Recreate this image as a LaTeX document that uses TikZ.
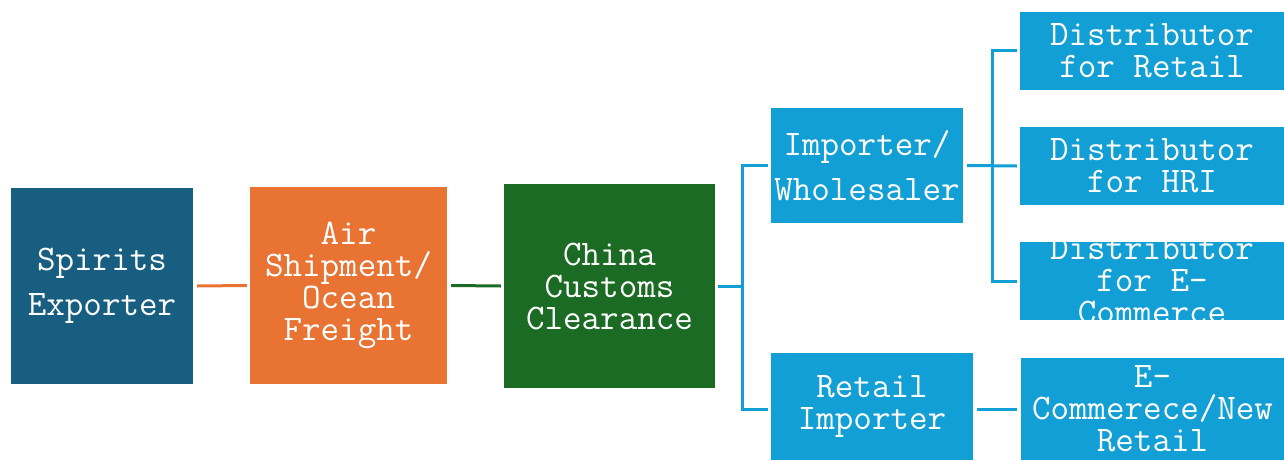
\documentclass[tikz,border=0pt]{standalone}
\definecolor{exportblue}{RGB}{23,94,128}
\definecolor{shiporange}{RGB}{233,115,51}
\definecolor{customsgreen}{RGB}{27,107,36}
\definecolor{chainblue}{RGB}{17,159,214}
\begin{document}
\begin{tikzpicture}[x=1pt,y=-1pt,
  box/.style={rectangle, fill=#1, draw=none, inner sep=0pt, text=white, align=center,
    font=\ttfamily\fontsize{36}{32}\selectfont},
  boxtext/.style={inner sep=0pt, text=white, align=center,
    font=\ttfamily\fontsize{36}{32}\selectfont},
  wide/.style={font=\ttfamily\fontsize{36}{45}\selectfont},
  conn/.style={line width=3pt, draw=#1},
  conn/.default=chainblue]
\useasboundingbox (0,0) rectangle (1284,460);

% main flow
\node[box=exportblue, wide, minimum width=182pt, minimum height=196pt] (se) at (102,286) {Spirits\\Exporter};
\node[box=shiporange, minimum width=197pt, minimum height=197pt] (air) at (348.5,285.5) {Air\\Shipment/\\Ocean\\Freight};
\node[box=customsgreen, minimum width=211pt, minimum height=204pt] (cc) at (609.5,286) {China\\Customs\\Clearance};

% importers
\node[box=chainblue, wide, minimum width=192pt, minimum height=115pt] (iw) at (867,165.5) {Importer/\\Wholesaler};
\node[box=chainblue, minimum width=202pt, minimum height=107pt] (ri) at (872,406.5) {Retail\\Importer};

% distributors
\node[box=chainblue, minimum width=264pt, minimum height=78pt] (d1) at (1152,51) {Distributor\\for Retail};
\node[box=chainblue, minimum width=264pt, minimum height=78pt] (d2) at (1152,166) {Distributor\\for HRI};
\node[box=chainblue, minimum width=264pt, minimum height=78pt] (d3) at (1152,281) {};
\node[box=chainblue, minimum width=263pt, minimum height=102pt] (ec) at (1152.5,409) {};

% overflowing labels, cut at the box edges
\begin{scope}
  \clip (d3.north west) rectangle (d3.south east);
  \node[boxtext] (d3t) at (d3.center) {Distributor\\for E-\\Commerce};
\end{scope}
\begin{scope}
  \clip (ec.north west) rectangle (ec.south east);
  \node[boxtext] (ect) at (ec.center) {E-\\Commerece/New\\Retail};
\end{scope}

% connectors
\coordinate (j1) at (742,286);
\coordinate (j2) at (992,166);
\draw[conn=shiporange] ([xshift=4pt]se.east) -- ([xshift=-3pt]air.west);
\draw[conn=customsgreen] ([xshift=4pt]air.east) -- ([xshift=-3pt]cc.west);
\draw[conn] ([xshift=3pt]cc.east) -- (j1);
\draw[conn] ([xshift=-3pt]iw.west) -| (j1) |- ([xshift=-3pt,yshift=-2.5pt]ri.west);
\draw[conn] ([xshift=4pt]iw.east) -- ([xshift=-3pt]d2.west);
\draw[conn] ([xshift=-3pt]d1.west) -| (j2) |- ([xshift=-3pt]d3.west);
\draw[conn] ([xshift=4pt]ri.east |- ec.west) -- ([xshift=-4pt]ec.west);
\end{tikzpicture}
\end{document}
